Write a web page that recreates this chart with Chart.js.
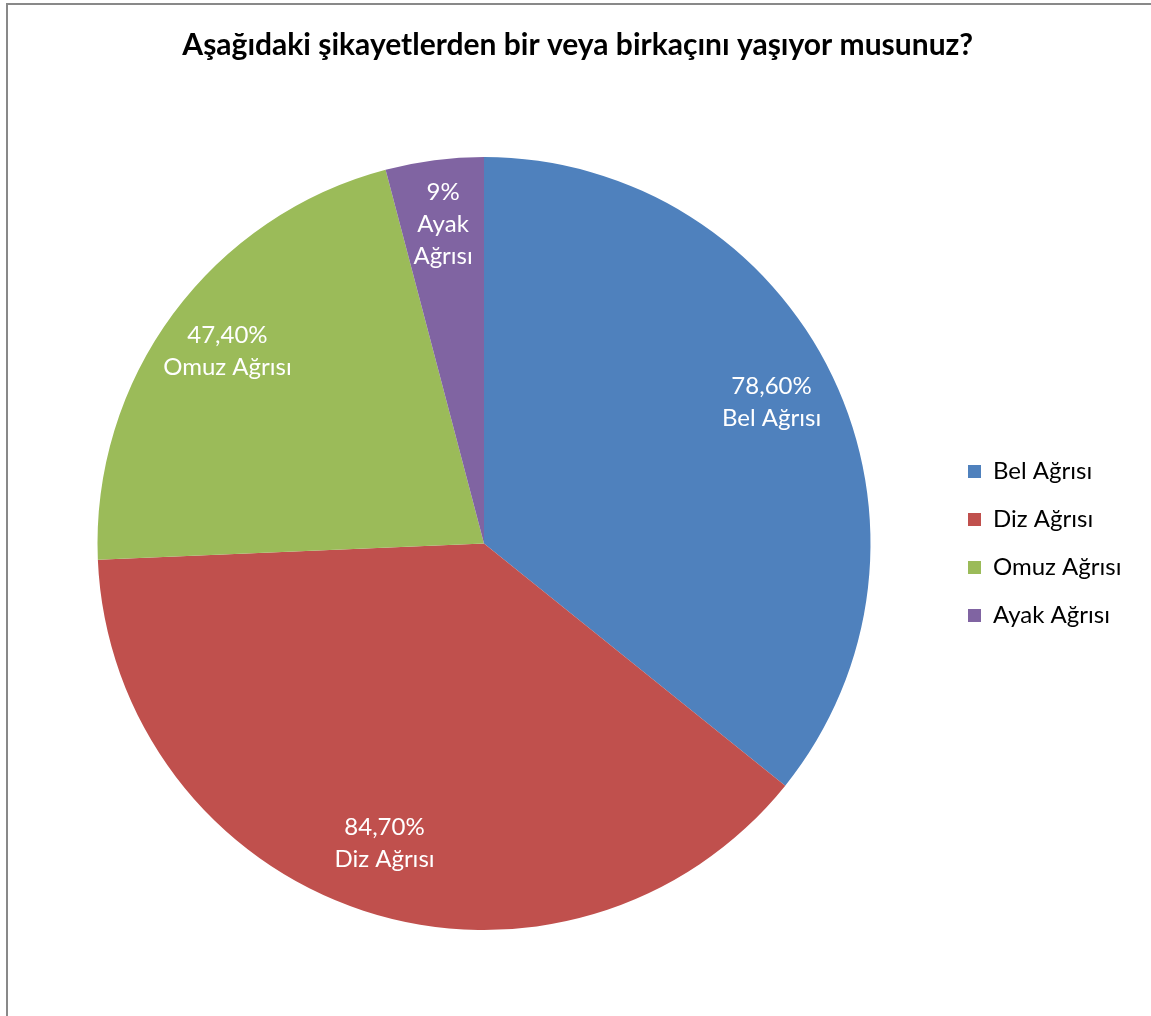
<!DOCTYPE html>
<html>
<head>
<meta charset="utf-8">
<script src="https://cdn.jsdelivr.net/npm/chart.js@4.4.1/dist/chart.umd.min.js"></script>
<style>
  html, body { margin: 0; padding: 0; background: #fff; overflow: hidden; }
  #frame {
    position: absolute; left: 6px; top: 3px;
    width: 1160px; height: 1030px;
    border-left: 2px solid #898989; border-top: 2px solid #898989;
  }
  #wrap { position: absolute; left: 0; top: 0; width: 1143px; height: 1011px; }
</style>
</head>
<body>
<div id="frame"><div id="wrap"><canvas id="pie"></canvas></div></div>
<script>
// chart data
const categories = ['Bel Ağrısı', 'Diz Ağrısı', 'Omuz Ağrısı', 'Ayak Ağrısı'];
const values = [78.6, 84.7, 47.4, 9];
const valueLabels = ['78,60%', '84,70%', '47,40%', '9%'];
const sliceColors = ['#4F81BD', '#C0504D', '#9BBB59', '#8064A2'];
const chartTitle = 'Aşağıdaki şikayetlerden bir veya birkaçını yaşıyor musunuz?';

const FONT = 'Lato';
const labelSize = 24;

// labels inside slices; the narrow one gets its name split in two lines
const sliceLabels = {
  id: 'sliceLabels',
  afterDatasetsDraw(chart) {
    const ctx = chart.ctx;
    const meta = chart.getDatasetMeta(0);
    ctx.save();
    ctx.fillStyle = '#ffffff';
    ctx.font = labelSize + 'px ' + FONT;
    ctx.textAlign = 'center';
    ctx.textBaseline = 'middle';
    meta.data.forEach((arc, i) => {
      const p = arc.getProps(['x', 'y', 'startAngle', 'endAngle', 'outerRadius'], true);
      const mid = (p.startAngle + p.endAngle) / 2;
      const r = p.outerRadius * 0.825;
      const cx = p.x + Math.cos(mid) * r;
      const cy = p.y + Math.sin(mid) * r - 3;
      let lines = [valueLabels[i], categories[i]];
      if (p.endAngle - p.startAngle < 0.5) {
        lines = [valueLabels[i]].concat(categories[i].split(' '));
      }
      const lh = 32;
      const top = cy - (lines.length - 1) * lh / 2;
      lines.forEach((t, k) => ctx.fillText(t, cx, top + k * lh));
    });
    ctx.restore();
  }
};

// push the legend block down so it is centred on the pie like the original
const legendShift = {
  id: 'legendShift',
  afterLayout(chart) {
    const lg = chart.legend;
    if (!lg) return;
    lg.top += 76;
    lg.bottom += 76;
  }
};

document.addEventListener('DOMContentLoaded', function () {
  const canvas = document.getElementById('pie');
  const ctx = canvas.getContext('2d');

  // measure widest legend text so the legend sits where the original has it
  ctx.font = labelSize + 'px ' + FONT;
  const textW = Math.max(...categories.map(c => ctx.measureText(c).width));
  const itemW = 13 + labelSize / 2 + textW;
  const padRight = Math.max(0, 1143 - 970 - itemW);

  new Chart(ctx, {
    type: 'pie',
    data: {
      labels: categories,
      datasets: [{
        data: values,
        backgroundColor: sliceColors,
        borderColor: '#ffffff',
        borderWidth: 0
      }]
    },
    options: {
      responsive: true,
      maintainAspectRatio: false,
      animation: false,
      layout: { padding: { left: 16, right: padRight, top: 0, bottom: 86 } },
      plugins: {
        title: {
          display: true,
          text: chartTitle,
          color: '#000000',
          font: { family: FONT, size: 30, weight: 'bold' },
          padding: { top: 22, bottom: 94 }
        },
        legend: {
          position: 'right',
          labels: {
            boxWidth: 13,
            boxHeight: 13,
            padding: 24,
            color: '#000000',
            font: { family: FONT, size: labelSize, lineHeight: 1.2 }
          }
        },
        tooltip: { enabled: false }
      }
    },
    plugins: [sliceLabels, legendShift]
  });
});
</script>
</body>
</html>
